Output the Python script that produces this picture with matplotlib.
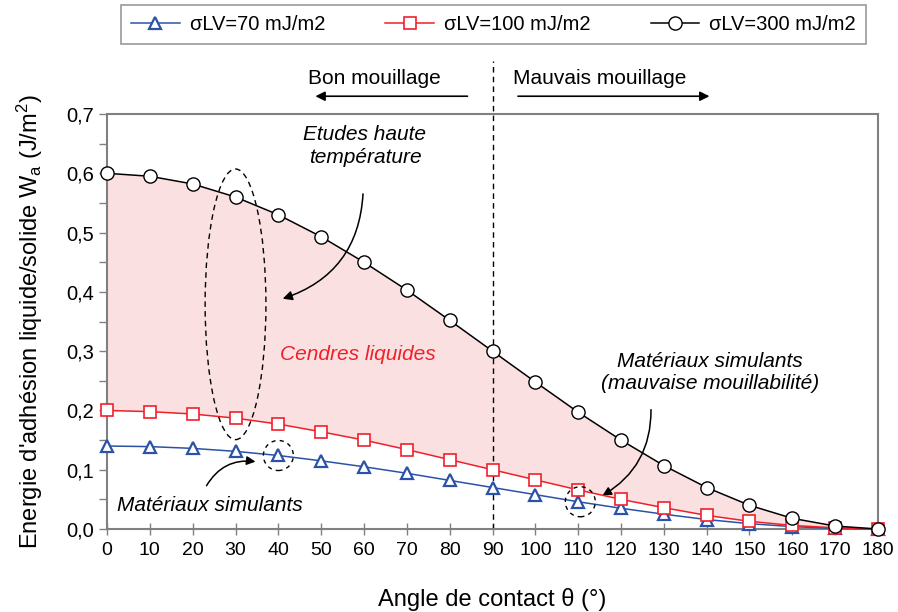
import matplotlib.pyplot as plt
import matplotlib as mpl
from matplotlib.patches import Ellipse
from matplotlib.ticker import MultipleLocator, FuncFormatter

mpl.rcParams['font.family'] = ['Liberation Sans', 'DejaVu Sans']
mpl.rcParams['mathtext.default'] = 'regular'

angles = [0, 10, 20, 30, 40, 50, 60, 70, 80, 90, 100, 110, 120, 130, 140, 150, 160, 170, 180]
wa_70 = [0.140, 0.139, 0.136, 0.131, 0.124, 0.115, 0.105, 0.094, 0.082, 0.070,
         0.058, 0.046, 0.035, 0.025, 0.016, 0.009, 0.004, 0.001, 0.000]
wa_100 = [0.200, 0.198, 0.194, 0.187, 0.177, 0.164, 0.150, 0.134, 0.117, 0.100,
          0.083, 0.066, 0.050, 0.036, 0.023, 0.013, 0.006, 0.002, 0.000]
wa_300 = [0.600, 0.595, 0.582, 0.560, 0.530, 0.493, 0.450, 0.403, 0.352, 0.300,
          0.248, 0.197, 0.150, 0.107, 0.070, 0.040, 0.018, 0.005, 0.000]
labels = ['σLV=70 mJ/m2', 'σLV=100 mJ/m2', 'σLV=300 mJ/m2']

blue = '#2b52a8'
red = '#f0202a'

fig = plt.figure(figsize=(8.98, 6.12), dpi=100)
ax = fig.add_axes([0.1192, 0.1356, 0.8585, 0.6781])

ax.fill_between(angles, wa_100, wa_300, color='#fbe0e1', lw=0, zorder=1)
ax.plot(angles, wa_70, color=blue, lw=1.1, marker='^', ms=8, mfc='white',
        mec=blue, mew=1.6, label=labels[0], zorder=3, clip_on=False)
ax.plot(angles, wa_100, color=red, lw=1.1, marker='s', ms=9, mfc='white',
        mec=red, mew=1.2, label=labels[1], zorder=4, clip_on=False)
ax.plot(angles, wa_300, color='black', lw=1.1, marker='o', ms=9.5, mfc='white',
        mec='black', mew=1.0, label=labels[2], zorder=5, clip_on=False)

ax.set_xlim(0, 180)
ax.set_ylim(0, 0.7)
ax.set_xticks(angles)
ax.yaxis.set_major_locator(MultipleLocator(0.1))
ax.yaxis.set_minor_locator(MultipleLocator(0.05))
ax.yaxis.set_major_formatter(FuncFormatter(lambda v, p: f'{v:.1f}'.replace('.', ',')))
ax.tick_params(axis='x', direction='inout', length=8, width=1, color='#808080', labelsize=14, pad=5)
ax.tick_params(axis='y', which='both', direction='out', length=6, width=1, color='#808080', labelsize=14.5)
for s in ax.spines.values():
    s.set_color('#808080')
    s.set_linewidth(1.5)

ax.set_xlabel('Angle de contact θ (°)', fontsize=17, labelpad=21)
ax.set_ylabel("Energie d'adhésion liquide/solide W$_a$ (J/m$^2$)", fontsize=17, labelpad=15)

# dashed separation line at 90 deg
ax.plot([90, 90], [0, 0.79], color='black', lw=1, ls=(0, (4, 3)), clip_on=False, zorder=2)
ax.text(62.5, 0.76, 'Bon mouillage', ha='center', va='center', fontsize=15)
ax.text(115, 0.76, 'Mauvais mouillage', ha='center', va='center', fontsize=15)
ax.annotate('', xy=(48, 0.73), xytext=(84.8, 0.73), annotation_clip=False,
            arrowprops=dict(arrowstyle='-|>', color='black', lw=1.2, mutation_scale=14))
ax.annotate('', xy=(141.3, 0.73), xytext=(95.3, 0.73), annotation_clip=False,
            arrowprops=dict(arrowstyle='-|>', color='black', lw=1.2, mutation_scale=14))

# annotations
ax.text(60.2, 0.646, 'Etudes haute\ntempérature', ha='center', va='center',
        fontsize=15, style='italic', linespacing=1.25)
ax.annotate('', xy=(40.4, 0.387), xytext=(59.8, 0.570),
            arrowprops=dict(arrowstyle='-|>', color='black', lw=1.1, mutation_scale=14,
                            connectionstyle='arc3,rad=-0.35'))
ax.add_patch(Ellipse((30, 0.379), 14.2, 0.4565, fill=False, ec='black', lw=1,
                     ls=(0, (4, 3)), zorder=6))
ax.text(58.6, 0.294, 'Cendres liquides', ha='center', va='center', fontsize=15,
        style='italic', color=red)

ax.text(24, 0.039, 'Matériaux simulants', ha='center', va='center', fontsize=15, style='italic')
ax.annotate('', xy=(35.3, 0.113), xytext=(22.9, 0.069),
            arrowprops=dict(arrowstyle='-|>', color='black', lw=1.1, mutation_scale=13,
                            connectionstyle='arc3,rad=-0.35'))
ax.add_patch(Ellipse((40, 0.124), 7.0, 0.0507, fill=False, ec='black', lw=1,
                     ls=(0, (3, 3)), zorder=6))

ax.text(140.8, 0.264, 'Matériaux simulants\n(mauvaise mouillabilité)', ha='center', va='center',
        fontsize=15, style='italic', linespacing=1.25)
ax.annotate('', xy=(115.1, 0.054), xytext=(127, 0.206),
            arrowprops=dict(arrowstyle='-|>', color='black', lw=1.1, mutation_scale=13,
                            connectionstyle='arc3,rad=-0.3'))
ax.add_patch(Ellipse((110.5, 0.046), 7.0, 0.0507, fill=False, ec='black', lw=1,
                     ls=(0, (3, 3)), zorder=6))

leg = fig.legend(loc='center', bbox_to_anchor=(0.5495, 0.96), ncol=3, fontsize=14.5,
                 frameon=True, fancybox=False, edgecolor='#808080', handlelength=2.4,
                 columnspacing=3.0, borderpad=0.5, handletextpad=0.5)
leg.get_frame().set_linewidth(1.2)

fig.savefig('out.png', dpi=100)
